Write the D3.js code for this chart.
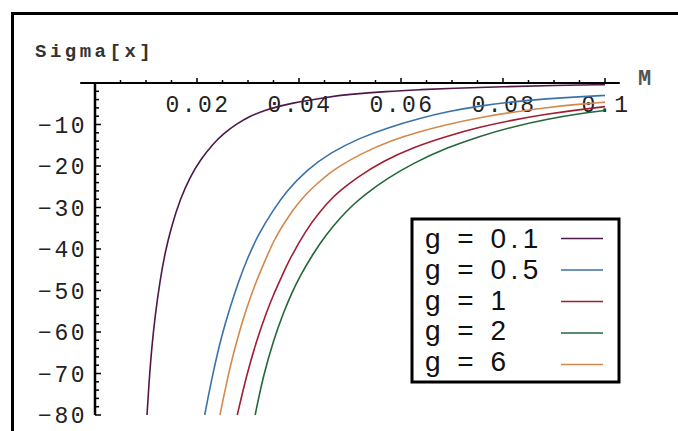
<!DOCTYPE html>
<html>
<head>
<meta charset="utf-8">
<script src="https://cdn.jsdelivr.net/npm/d3@7/dist/d3.min.js"></script>
<style>
  html, body { margin: 0; padding: 0; background: #fff; }
  svg { display: block; }
  .tick-label { font-family: "Liberation Mono", "DejaVu Sans Mono", monospace; fill: #222; }
</style>
</head>
<body>
<svg id="chart" width="678" height="431"></svg>
<script>
// Sigma[x] against M for several couplings g
const seriesNames = ["g = 0.1", "g = 0.5", "g = 1", "g = 2", "g = 6"];
const seriesColors = ["#4e1848", "#3b72a6", "#a01e34", "#24683a", "#d4894c"];

const g01 = [[0.0102,-80],[0.0106,-72],[0.0111,-64],[0.0118,-56],[0.0127,-48],[0.0137,-41],[0.015,-34.5],
  [0.0167,-28],[0.0186,-22.7],[0.0206,-18.6],[0.0232,-14.6],[0.0251,-12.3],[0.0278,-9.8],[0.0304,-8.0],
  [0.0324,-7.0],[0.0343,-6.2],[0.0382,-4.9],[0.0461,-3.3],[0.0494,-2.8],[0.0573,-2.0],[0.0637,-1.6],
  [0.07,-1.25],[0.08,-0.9],[0.09,-0.6],[0.1,-0.4]];
const g05 = [[0.0215,-80],[0.0231,-70],[0.0248,-61],[0.0265,-54],[0.0281,-48],[0.0298,-42.5],[0.032,-36.5],
  [0.035,-30.5],[0.0376,-26],[0.0415,-21],[0.0461,-16.8],[0.052,-13.2],[0.0573,-10.8],[0.0637,-8.5],
  [0.069,-6.9],[0.0755,-5.5],[0.082,-4.5],[0.0886,-3.8],[0.095,-3.3],[0.1,-3.0]];
const g1 = [[0.0279,-80],[0.0297,-70.5],[0.0317,-62],[0.0337,-55],[0.035,-51],[0.0363,-47.5],[0.0382,-42.3],
  [0.0415,-35.2],[0.0441,-31.0],[0.0465,-27.7],[0.048,-26.0],[0.0513,-22.8],[0.0565,-18.8],[0.0624,-15.5],
  [0.069,-12.8],[0.0755,-10.6],[0.082,-8.9],[0.0886,-7.5],[0.095,-6.4],[0.1,-5.7]];
const g2 = [[0.0314,-80],[0.033,-70.5],[0.035,-62],[0.0369,-55.5],[0.0385,-50.8],[0.0402,-46.5],[0.0428,-41],
  [0.0455,-36.3],[0.048,-32.6],[0.0506,-29.3],[0.0532,-26.6],[0.0573,-23.0],[0.0624,-19.3],[0.069,-15.6],
  [0.0755,-12.8],[0.082,-10.5],[0.0886,-8.7],[0.095,-7.4],[0.1,-6.6]];
const g6 = [[0.0245,-80],[0.0265,-68],[0.0284,-59.5],[0.0298,-54],[0.0314,-48.5],[0.0324,-45.5],[0.0337,-41.8],
  [0.035,-38.2],[0.0363,-35.3],[0.0382,-31.7],[0.0396,-29.4],[0.0408,-27.6],[0.0422,-25.8],[0.0435,-24.3],
  [0.0461,-21.6],[0.048,-20.0],[0.052,-17.1],[0.0584,-13.7],[0.0637,-11.7],[0.069,-10.0],[0.0755,-8.3],
  [0.082,-7.0],[0.0886,-5.9],[0.095,-5.1],[0.1,-4.6]];
const seriesData = [g01, g05, g1, g2, g6];

const xTickValues = [0.02, 0.04, 0.06, 0.08, 0.1];
const xTickLabels = ["0.02", "0.04", "0.06", "0.08", "0.1"];
const yTickValues = [-10, -20, -30, -40, -50, -60, -70, -80];
const yTickLabels = ["\u221210", "\u221220", "\u221230", "\u221240", "\u221250", "\u221260", "\u221270", "\u221280"];
const xAxisTitle = "M";
const yAxisTitle = "Sigma[x]";

const svg = d3.select("#chart");
const x = d3.scaleLinear().domain([0, 0.1]).range([95, 605]);
const y = d3.scaleLinear().domain([0, -80]).range([83, 415]);

// outer frame
svg.append("rect").attr("x", 12.5).attr("y", 13.5).attr("width", 720).attr("height", 500)
  .attr("fill", "none").attr("stroke", "#000").attr("stroke-width", 3);

// horizontal axis: long line, ticks pointing up
const xAxisExtent = [-0.0029, 0.1029];
svg.append("line")
  .attr("x1", x(xAxisExtent[0])).attr("x2", x(xAxisExtent[1]))
  .attr("y1", y(0)).attr("y2", y(0))
  .attr("stroke", "#000").attr("stroke-width", 2);
const xMinor = d3.range(1, 21).map(i => i * 0.005);
svg.append("g").selectAll("line").data(xMinor).join("line")
  .attr("x1", d => x(d)).attr("x2", d => x(d))
  .attr("y1", y(0)).attr("y2", d => y(0) - (Math.abs(d / 0.02 - Math.round(d / 0.02)) < 1e-6 ? 5 : 3))
  .attr("stroke", "#000").attr("stroke-width", 1.5);

// vertical axis with ticks pointing right
svg.append("line")
  .attr("x1", x(0)).attr("x2", x(0))
  .attr("y1", y(0)).attr("y2", y(-80))
  .attr("stroke", "#000").attr("stroke-width", 2.5);
const yMinor = d3.range(1, 41).map(i => -2 * i);
svg.append("g").selectAll("line").data(yMinor).join("line")
  .attr("x1", x(0)).attr("x2", d => x(0) + (d % 10 === 0 ? 6 : 4))
  .attr("y1", d => y(d)).attr("y2", d => y(d))
  .attr("stroke", "#000").attr("stroke-width", 1.5);

// tick labels
svg.append("g").selectAll("text").data(xTickValues).join("text")
  .attr("class", "tick-label")
  .attr("x", d => x(d) + 1).attr("y", 112)
  .attr("text-anchor", "middle")
  .style("font-size", "23px").style("letter-spacing", "2.5px")
  .text((d, i) => xTickLabels[i]);
svg.append("g").selectAll("text").data(yTickValues).join("text")
  .attr("class", "tick-label")
  .attr("x", 87).attr("y", d => y(d) + 8)
  .attr("text-anchor", "end")
  .style("font-size", "23px").style("letter-spacing", "2.5px")
  .text((d, i) => yTickLabels[i]);

// axis titles
svg.append("text").attr("class", "tick-label")
  .attr("x", 35).attr("y", 57)
  .style("font-size", "19px").style("letter-spacing", "3.5px").style("font-weight", "bold").style("fill", "#333")
  .text(yAxisTitle);
svg.append("text").attr("class", "tick-label")
  .attr("x", 638).attr("y", 85)
  .style("font-size", "22px").style("fill", "#555").style("font-weight", "bold")
  .text(xAxisTitle);

// curves
const line = d3.line().x(d => x(d[0])).y(d => y(d[1])).curve(d3.curveBasis);
svg.append("g").selectAll("path").data(seriesData).join("path")
  .attr("d", d => line(d))
  .attr("fill", "none")
  .attr("stroke", (d, i) => seriesColors[i])
  .attr("stroke-width", 1.6);

// legend
const legend = svg.append("g");
legend.append("rect").attr("x", 412).attr("y", 219).attr("width", 207).attr("height", 163)
  .attr("fill", "#fff").attr("stroke", "#000").attr("stroke-width", 3);
const rows = legend.selectAll("g.row").data(seriesNames).join("g").attr("class", "row");
rows.append("text")
  .attr("x", 425).attr("y", (d, i) => 248 + i * 30.8)
  .style("font-family", "'Liberation Sans', Arial, sans-serif")
  .style("font-size", "28px").style("letter-spacing", "4.5px").style("fill", "#111")
  .text(d => d);
rows.append("line")
  .attr("x1", 561).attr("x2", 603)
  .attr("y1", (d, i) => 238.5 + i * 31.5).attr("y2", (d, i) => 238.5 + i * 31.5)
  .attr("stroke", (d, i) => seriesColors[i]).attr("stroke-width", 1.6);
</script>
</body>
</html>
